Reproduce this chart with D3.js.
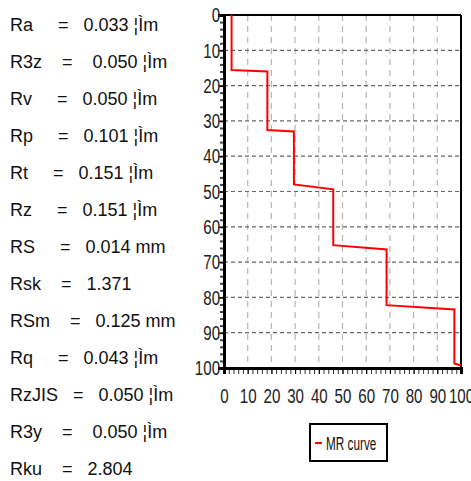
<!DOCTYPE html>
<html lang="en">
<head>
<meta charset="utf-8">
<title>MR curve</title>
<script src="https://d3js.org/d3.v7.min.js"></script>
<style>
  body{margin:0;background:#fff;}
  .stat{font-family:"Liberation Sans",Arial,sans-serif;font-size:18px;fill:#111;white-space:pre;}
  .tick text{font-family:"Liberation Sans",Arial,sans-serif;font-size:21px;fill:#222;}
  .legtext{font-family:"Liberation Sans",Arial,sans-serif;font-size:19px;fill:#111;}
</style>
</head>
<body>
<div id="chart"></div>
<script>
// parameter table on the left (text as printed)
var statNames  = ["Ra","R3z","Rv","Rp","Rt","Rz","RS","Rsk","RSm","Rq","RzJIS","R3y","Rku"]
var statGap1   = ["     ","    ","     ","     ","     ","     ","     ","    ","    ","     ","   ","    ","    "]
var statValues = ["0.033 ¦Ìm","0.050 ¦Ìm","0.050 ¦Ìm","0.101 ¦Ìm","0.151 ¦Ìm","0.151 ¦Ìm","0.014 mm","1.371","0.125 mm","0.043 ¦Ìm","0.050 ¦Ìm","0.050 ¦Ìm","2.804"]
var statGap2   = ["   ","    ","   ","   ","   ","   ","   ","   ","   ","   ","   ","    ","   "]

// material ratio curve (x = %, y = depth %)
var mrX = [3.2, 3.2, 18.3, 18.3, 29.5, 29.5, 46.1, 46.1, 68.6, 68.6, 97.2, 97.2, 100]
var mrY = [0, 15.6, 16.0, 32.6, 33.0, 48.0, 49.4, 65.2, 66.4, 82.2, 83.4, 98.7, 99.3]

var xTicks = [0,10,20,30,40,50,60,70,80,90,100]
var yTicks = [0,10,20,30,40,50,60,70,80,90,100]
var minorTicks = d3.range(0, 101, 2)
var legendLabel = "MR curve"

var W = 471, H = 481
var narrow = 0.72
var svg = d3.select("#chart").append("svg").attr("width", W).attr("height", H)

// stats text
svg.selectAll(".stat")
  .data(statNames)
  .enter()
  .append("text")
  .attr("class","stat")
  .attr("xml:space","preserve")
  .attr("x",10)
  .attr("y",function(d,i){ return 31 + i*37 })
  .text(function(d,i){ return d + statGap1[i] + "=" + statGap2[i] + statValues[i] })

var x = d3.scaleLinear().domain([0,100]).range([224,461])
var y = d3.scaleLinear().domain([0,100]).range([15,368])

// grid
svg.append("g").selectAll("line")
  .data(xTicks.slice(1,-1))
  .enter().append("line")
  .attr("x1",function(d){return x(d)}).attr("x2",function(d){return x(d)})
  .attr("y1",y(0)).attr("y2",y(100))
  .attr("stroke","#b5b5b5").attr("stroke-width",1.2).attr("stroke-dasharray","6,5")

svg.append("g").selectAll("line")
  .data(yTicks.slice(1,-1))
  .enter().append("line")
  .attr("y1",function(d){return y(d)}).attr("y2",function(d){return y(d)})
  .attr("x1",x(0)).attr("x2",x(100))
  .attr("stroke","#666").attr("stroke-width",1.2).attr("stroke-dasharray","4,3")

// frame
svg.append("line").attr("x1",x(0)).attr("x2",x(100)).attr("y1",y(0)).attr("y2",y(0)).attr("stroke","#000").attr("stroke-width",2)
svg.append("line").attr("x1",x(100)).attr("x2",x(100)).attr("y1",y(0)).attr("y2",y(100)).attr("stroke","#000").attr("stroke-width",2)

// minor ticks
svg.append("g")
  .attr("transform","translate(0,"+y(100)+")")
  .call(d3.axisBottom(x).tickValues(minorTicks).tickSize(6).tickFormat(""))
  .call(function(g){ g.select(".domain").remove() })
  .selectAll("line").attr("stroke","#333")
svg.append("g")
  .attr("transform","translate("+x(0)+",0)")
  .call(d3.axisLeft(y).tickValues(minorTicks).tickSize(4).tickFormat(""))
  .call(function(g){ g.select(".domain").remove() })
  .selectAll("line").attr("stroke","#444").attr("stroke-width",2)

// major axes with labels (condensed digits like the original)
svg.append("g")
  .attr("transform","translate(0,"+y(100)+")")
  .call(d3.axisBottom(x).tickValues(xTicks).tickSize(6).tickPadding(14))
  .call(function(g){
    g.select(".domain").attr("stroke","#000").attr("stroke-width",3)
    g.selectAll(".tick text").attr("transform","scale("+narrow+",1)")
  })
svg.append("g")
  .attr("transform","translate("+x(0)+",0)")
  .call(d3.axisLeft(y).tickValues(yTicks).tickSize(6))
  .call(function(g){
    g.select(".domain").attr("stroke","#000").attr("stroke-width",3)
    g.selectAll(".tick text").attr("x",-5.5).attr("transform","scale("+narrow+",1)")
  })

// curve
var line = d3.line().x(function(d){return x(d[0])}).y(function(d){return y(d[1])})
svg.append("path")
  .datum(mrX.map(function(v,i){ return [v, mrY[i]] }))
  .attr("d",line)
  .attr("fill","none")
  .attr("stroke","#ff0000")
  .attr("stroke-width",2)

// legend
var leg = svg.append("g").attr("transform","translate(310,424)")
leg.append("rect").attr("width",77).attr("height",37).attr("fill","#fff").attr("stroke","#000").attr("stroke-width",2)
leg.append("line").attr("x1",5).attr("x2",12).attr("y1",19).attr("y2",19).attr("stroke","#ff0000").attr("stroke-width",2)
leg.append("text").attr("class","legtext").attr("x",16/0.62).attr("y",26)
  .attr("transform","scale(0.62,1)").text(legendLabel)
</script>
</body>
</html>
